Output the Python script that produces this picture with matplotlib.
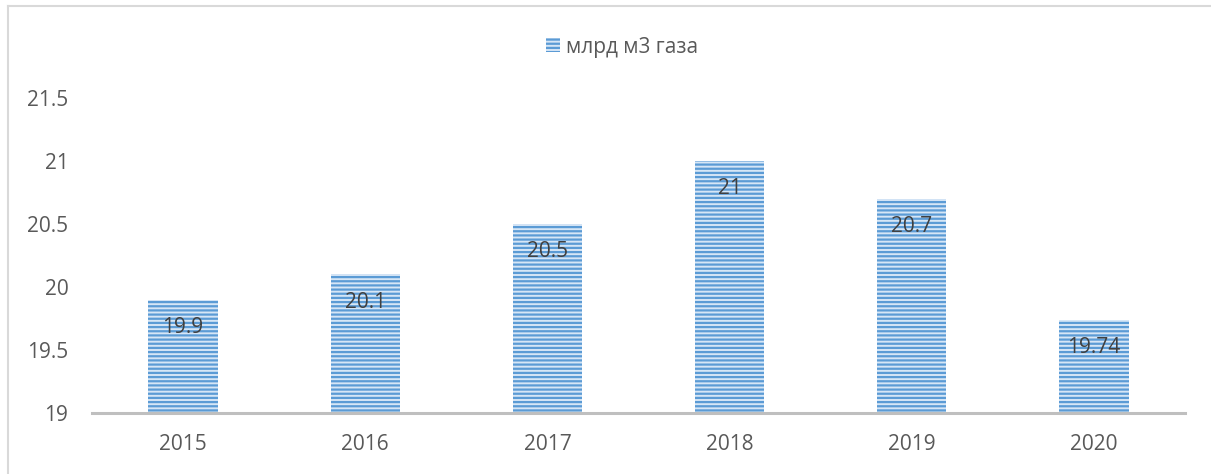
import matplotlib
matplotlib.use("Agg")
import matplotlib.pyplot as plt
from matplotlib.patches import Patch
from matplotlib.lines import Line2D

years = ["2015", "2016", "2017", "2018", "2019", "2020"]
values = [19.9, 20.1, 20.5, 21.0, 20.7, 19.74]
labels = ["19.9", "20.1", "20.5", "21", "20.7", "19.74"]
yticks = [19, 19.5, 20, 20.5, 21, 21.5]
ytick_labels = ["19", "19.5", "20", "20.5", "21", "21.5"]
series_name = "млрд м3 газа"

plt.rcParams["font.family"] = ["Open Sans", "DejaVu Sans"]
plt.rcParams["hatch.linewidth"] = 1.6

text_color = "#595959"
face = "#d6e6f6"
stripe = "#5b9bd5"

fig = plt.figure(figsize=(12.11, 4.74), dpi=100)
ax = fig.add_axes([92 / 1211, 61 / 474, 1093 / 1211, 315 / 474])

x = list(range(len(years)))
ax.bar(x, [v - 19 for v in values], bottom=19, width=0.38,
       facecolor=face, edgecolor=stripe, linewidth=0, hatch="----", zorder=2)

for xi, v, lab in zip(x, values, labels):
    ax.annotate(lab, (xi, v), xytext=(0, -20), textcoords="offset points",
                ha="center", va="center", fontsize=15, color="#404040", zorder=3)

ax.set_xlim(-0.5, len(years) - 0.5)
ax.set_ylim(19, 21.5)
ax.set_xticks(x)
ax.set_xticklabels(years)
ax.set_yticks(yticks)
ax.set_yticklabels(ytick_labels)
ax.tick_params(axis="both", length=0, labelsize=15, labelcolor=text_color)
ax.tick_params(axis="x", pad=15)
ax.tick_params(axis="y", pad=17)

for side in ["top", "right", "left"]:
    ax.spines[side].set_visible(False)
ax.spines["bottom"].set_color("#bfbfbf")
ax.spines["bottom"].set_linewidth(2.2)
ax.spines["bottom"].set_zorder(4)

handle = Patch(facecolor=face, edgecolor=stripe, linewidth=0, hatch="----")
fig.legend([handle], [series_name], loc="center", bbox_to_anchor=(622 / 1211, 1 - 47 / 474),
           frameon=False, fontsize=15, labelcolor=text_color,
           handlelength=0.65, handleheight=0.65, handletextpad=0.3)

# chart border (left and top visible in the crop)
fig.add_artist(Line2D([8 / 1211, 8 / 1211], [0, 1 - 6 / 474], color="#d9d9d9", lw=1.5))
fig.add_artist(Line2D([8 / 1211, 1], [1 - 6 / 474, 1 - 6 / 474], color="#d9d9d9", lw=1.5))

fig.savefig("out.png", dpi=100)
